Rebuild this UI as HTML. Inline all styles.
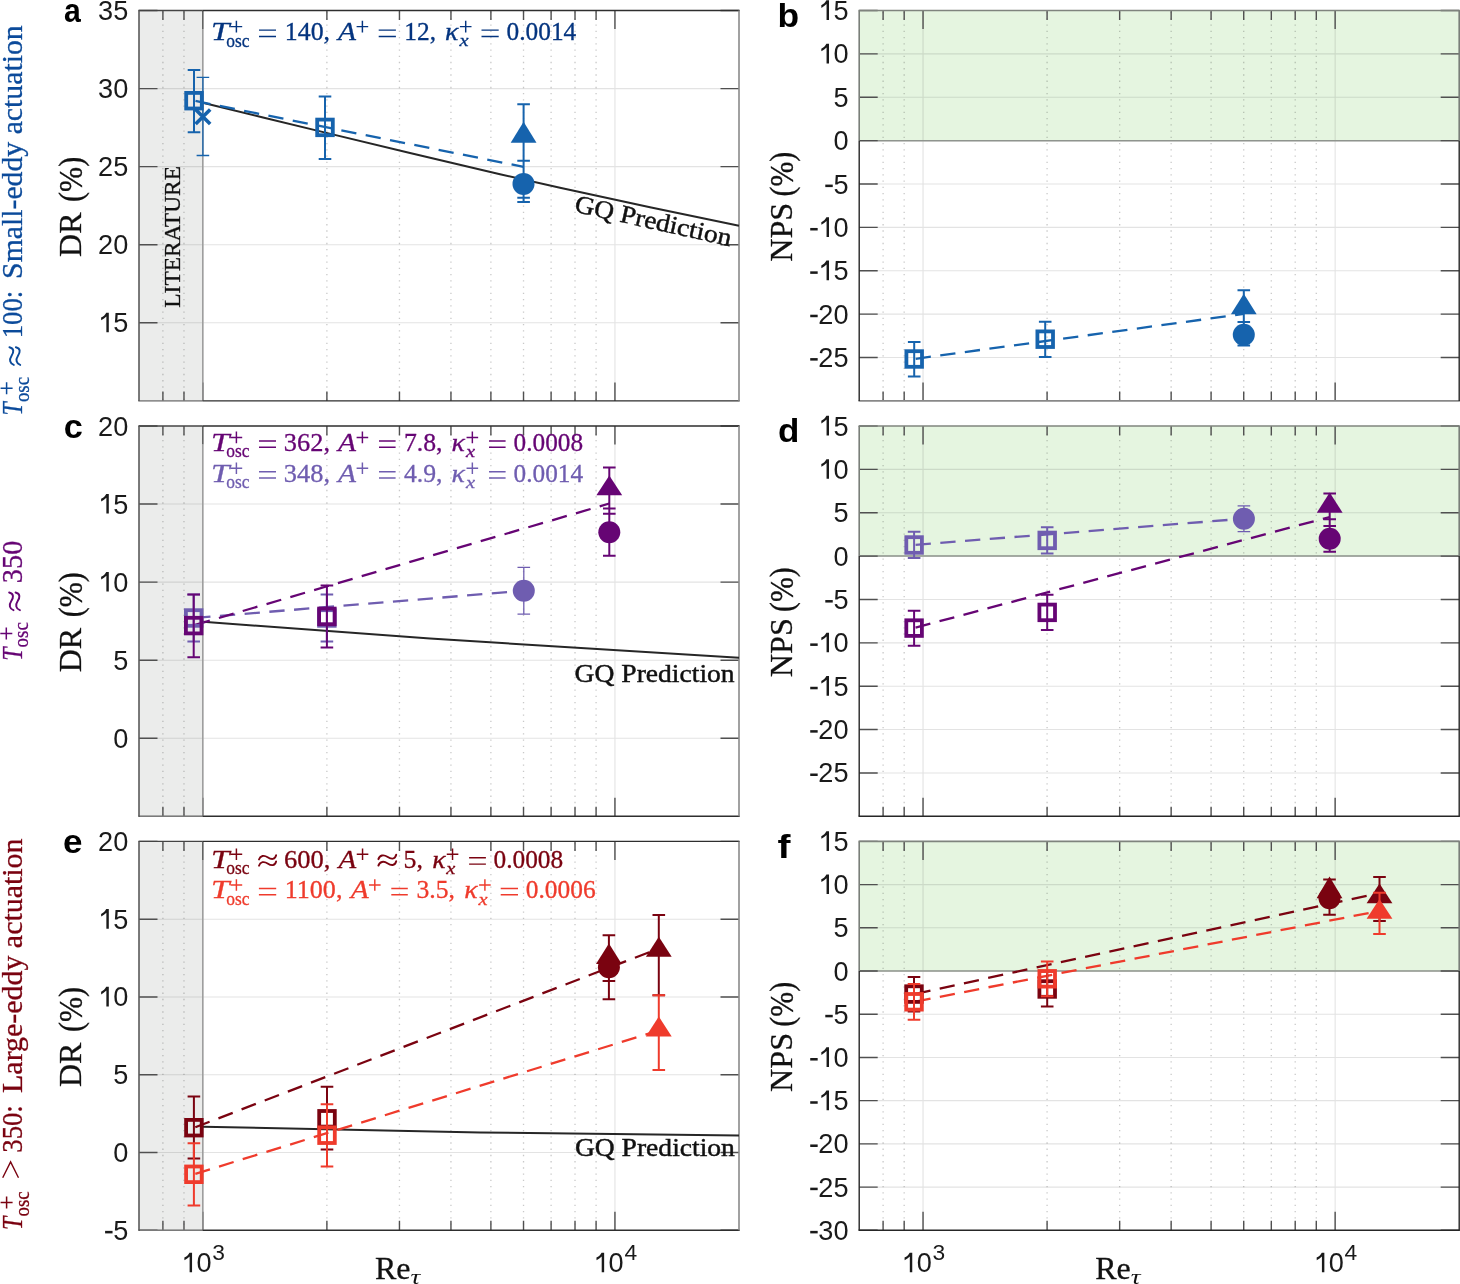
<!DOCTYPE html><html><head><meta charset="utf-8"><style>html,body{margin:0;padding:0;background:#fff;}svg{display:block;will-change:transform;}</style></head><body><svg width="1460" height="1284" viewBox="0 0 1460 1284">
<rect width="1460" height="1284" fill="#fff"/>
<rect x="139.0" y="10.5" width="63.84" height="390.40" fill="#ebeceb"/>
<path d="M139.00 322.82H739.00 M139.00 244.74H739.00 M139.00 166.66H739.00 M139.00 88.58H739.00 M202.84 10.50V400.90 M614.94 10.50V400.90" stroke="#262626" stroke-opacity="0.13" stroke-width="1.1" fill="none"/>
<path d="M162.90 11.95V400.90 M183.98 11.95V400.90 M326.89 11.95V400.90 M399.46 11.95V400.90 M450.95 11.95V400.90 M490.89 11.95V400.90 M523.52 11.95V400.90 M551.11 11.95V400.90 M575.01 11.95V400.90 M596.09 11.95V400.90" stroke="#262626" stroke-opacity="0.25" stroke-width="1.3" stroke-dasharray="1.3 4.94" fill="none"/>
<rect x="859.2" y="10.5" width="600.0" height="130.13" fill="#e5f5e0"/>
<path d="M859.20 357.52H1459.20 M859.20 314.14H1459.20 M859.20 270.77H1459.20 M859.20 227.39H1459.20 M859.20 184.01H1459.20 M859.20 140.63H1459.20 M859.20 97.26H1459.20 M859.20 53.88H1459.20 M923.04 10.50V400.90 M1335.14 10.50V400.90" stroke="#262626" stroke-opacity="0.13" stroke-width="1.1" fill="none"/>
<path d="M883.10 11.95V400.90 M904.18 11.95V400.90 M1047.09 11.95V400.90 M1119.66 11.95V400.90 M1171.15 11.95V400.90 M1211.09 11.95V400.90 M1243.72 11.95V400.90 M1271.31 11.95V400.90 M1295.21 11.95V400.90 M1316.29 11.95V400.90" stroke="#262626" stroke-opacity="0.25" stroke-width="1.3" stroke-dasharray="1.3 4.94" fill="none"/>
<path d="M859.2 140.63H1459.2" stroke="#8f948e" stroke-width="1.5" fill="none"/>
<rect x="139.0" y="426.0" width="63.84" height="390.30" fill="#ebeceb"/>
<path d="M139.00 738.24H739.00 M139.00 660.18H739.00 M139.00 582.12H739.00 M139.00 504.06H739.00 M202.84 426.00V816.30 M614.94 426.00V816.30" stroke="#262626" stroke-opacity="0.13" stroke-width="1.1" fill="none"/>
<path d="M162.90 427.45V816.30 M183.98 427.45V816.30 M326.89 427.45V816.30 M399.46 427.45V816.30 M450.95 427.45V816.30 M490.89 427.45V816.30 M523.52 427.45V816.30 M551.11 427.45V816.30 M575.01 427.45V816.30 M596.09 427.45V816.30" stroke="#262626" stroke-opacity="0.25" stroke-width="1.3" stroke-dasharray="1.3 4.94" fill="none"/>
<rect x="859.2" y="426.0" width="600.0" height="130.10" fill="#e5f5e0"/>
<path d="M859.20 772.93H1459.20 M859.20 729.57H1459.20 M859.20 686.20H1459.20 M859.20 642.83H1459.20 M859.20 599.47H1459.20 M859.20 556.10H1459.20 M859.20 512.73H1459.20 M859.20 469.37H1459.20 M923.04 426.00V816.30 M1335.14 426.00V816.30" stroke="#262626" stroke-opacity="0.13" stroke-width="1.1" fill="none"/>
<path d="M883.10 427.45V816.30 M904.18 427.45V816.30 M1047.09 427.45V816.30 M1119.66 427.45V816.30 M1171.15 427.45V816.30 M1211.09 427.45V816.30 M1243.72 427.45V816.30 M1271.31 427.45V816.30 M1295.21 427.45V816.30 M1316.29 427.45V816.30" stroke="#262626" stroke-opacity="0.25" stroke-width="1.3" stroke-dasharray="1.3 4.94" fill="none"/>
<path d="M859.2 556.10H1459.2" stroke="#8f948e" stroke-width="1.5" fill="none"/>
<rect x="139.0" y="841.4" width="63.84" height="388.90" fill="#ebeceb"/>
<path d="M139.00 1152.52H739.00 M139.00 1074.74H739.00 M139.00 996.96H739.00 M139.00 919.18H739.00 M202.84 841.40V1230.30 M614.94 841.40V1230.30" stroke="#262626" stroke-opacity="0.13" stroke-width="1.1" fill="none"/>
<path d="M162.90 842.85V1230.30 M183.98 842.85V1230.30 M326.89 842.85V1230.30 M399.46 842.85V1230.30 M450.95 842.85V1230.30 M490.89 842.85V1230.30 M523.52 842.85V1230.30 M551.11 842.85V1230.30 M575.01 842.85V1230.30 M596.09 842.85V1230.30" stroke="#262626" stroke-opacity="0.25" stroke-width="1.3" stroke-dasharray="1.3 4.94" fill="none"/>
<rect x="859.2" y="841.4" width="600.0" height="129.63" fill="#e5f5e0"/>
<path d="M859.20 1187.09H1459.20 M859.20 1143.88H1459.20 M859.20 1100.67H1459.20 M859.20 1057.46H1459.20 M859.20 1014.24H1459.20 M859.20 971.03H1459.20 M859.20 927.82H1459.20 M859.20 884.61H1459.20 M923.04 841.40V1230.30 M1335.14 841.40V1230.30" stroke="#262626" stroke-opacity="0.13" stroke-width="1.1" fill="none"/>
<path d="M883.10 842.85V1230.30 M904.18 842.85V1230.30 M1047.09 842.85V1230.30 M1119.66 842.85V1230.30 M1171.15 842.85V1230.30 M1211.09 842.85V1230.30 M1243.72 842.85V1230.30 M1271.31 842.85V1230.30 M1295.21 842.85V1230.30 M1316.29 842.85V1230.30" stroke="#262626" stroke-opacity="0.25" stroke-width="1.3" stroke-dasharray="1.3 4.94" fill="none"/>
<path d="M859.2 971.03H1459.2" stroke="#8f948e" stroke-width="1.5" fill="none"/>
<path d="M139.00 322.82h18.5M739.00 322.82h-18.5 M139.00 244.74h18.5M739.00 244.74h-18.5 M139.00 166.66h18.5M739.00 166.66h-18.5 M139.00 88.58h18.5M739.00 88.58h-18.5 M139.00 10.50h18.5M739.00 10.50h-18.5 M202.84 10.50v18.5M202.84 400.90v-18.5 M614.94 10.50v18.5M614.94 400.90v-18.5 M162.90 10.50v9.5M162.90 400.90v-9.5 M183.98 10.50v9.5M183.98 400.90v-9.5 M326.89 10.50v9.5M326.89 400.90v-9.5 M399.46 10.50v9.5M399.46 400.90v-9.5 M450.95 10.50v9.5M450.95 400.90v-9.5 M490.89 10.50v9.5M490.89 400.90v-9.5 M523.52 10.50v9.5M523.52 400.90v-9.5 M551.11 10.50v9.5M551.11 400.90v-9.5 M575.01 10.50v9.5M575.01 400.90v-9.5 M596.09 10.50v9.5M596.09 400.90v-9.5" stroke="#505050" stroke-width="1.4" fill="none"/>
<path d="M202.84 10.50H739.70M202.84 400.90H739.70" stroke="#2e2e2e" stroke-width="1.4" fill="none"/>
<path d="M138.30 10.50H202.84" stroke="#444" stroke-width="1.4" fill="none"/>
<path d="M138.30 400.90H202.84" stroke="#555" stroke-width="1.4" fill="none"/>
<path d="M139.00 10.50V400.90" stroke="#5a5a5a" stroke-width="1.6" fill="none"/>
<path d="M739.00 10.50V400.90" stroke="#8a8a8a" stroke-width="1.6" fill="none"/>
<path d="M202.84 29.10V400.20" stroke="#959595" stroke-width="1.4" fill="none"/>
<path d="M139.80 400.90H202.14" stroke="#ebeceb" stroke-opacity="0.25" stroke-width="1.4" fill="none"/>
<path d="M859.20 357.52h18.5M1459.20 357.52h-18.5 M859.20 314.14h18.5M1459.20 314.14h-18.5 M859.20 270.77h18.5M1459.20 270.77h-18.5 M859.20 227.39h18.5M1459.20 227.39h-18.5 M859.20 184.01h18.5M1459.20 184.01h-18.5 M859.20 140.63h18.5M1459.20 140.63h-18.5 M859.20 97.26h18.5M1459.20 97.26h-18.5 M859.20 53.88h18.5M1459.20 53.88h-18.5 M859.20 10.50h18.5M1459.20 10.50h-18.5 M923.04 10.50v18.5M923.04 400.90v-18.5 M1335.14 10.50v18.5M1335.14 400.90v-18.5 M883.10 10.50v9.5M883.10 400.90v-9.5 M904.18 10.50v9.5M904.18 400.90v-9.5 M1047.09 10.50v9.5M1047.09 400.90v-9.5 M1119.66 10.50v9.5M1119.66 400.90v-9.5 M1171.15 10.50v9.5M1171.15 400.90v-9.5 M1211.09 10.50v9.5M1211.09 400.90v-9.5 M1243.72 10.50v9.5M1243.72 400.90v-9.5 M1271.31 10.50v9.5M1271.31 400.90v-9.5 M1295.21 10.50v9.5M1295.21 400.90v-9.5 M1316.29 10.50v9.5M1316.29 400.90v-9.5" stroke="#505050" stroke-width="1.4" fill="none"/>
<path d="M858.50 10.50H1459.90" stroke="#7f847e" stroke-width="1.6" fill="none"/>
<path d="M858.50 400.90H1459.90" stroke="#888" stroke-width="1.6" fill="none"/>
<path d="M859.20 10.50V140.63M1459.20 10.50V140.63" stroke="#7a7f79" stroke-width="1.6" fill="none"/>
<path d="M859.20 140.63V400.90M1459.20 140.63V400.90" stroke="#262626" stroke-width="1.4" fill="none"/>
<path d="M139.00 738.24h18.5M739.00 738.24h-18.5 M139.00 660.18h18.5M739.00 660.18h-18.5 M139.00 582.12h18.5M739.00 582.12h-18.5 M139.00 504.06h18.5M739.00 504.06h-18.5 M139.00 426.00h18.5M739.00 426.00h-18.5 M202.84 426.00v18.5M202.84 816.30v-18.5 M614.94 426.00v18.5M614.94 816.30v-18.5 M162.90 426.00v9.5M162.90 816.30v-9.5 M183.98 426.00v9.5M183.98 816.30v-9.5 M326.89 426.00v9.5M326.89 816.30v-9.5 M399.46 426.00v9.5M399.46 816.30v-9.5 M450.95 426.00v9.5M450.95 816.30v-9.5 M490.89 426.00v9.5M490.89 816.30v-9.5 M523.52 426.00v9.5M523.52 816.30v-9.5 M551.11 426.00v9.5M551.11 816.30v-9.5 M575.01 426.00v9.5M575.01 816.30v-9.5 M596.09 426.00v9.5M596.09 816.30v-9.5" stroke="#505050" stroke-width="1.4" fill="none"/>
<path d="M202.84 426.00H739.70M202.84 816.30H739.70" stroke="#2e2e2e" stroke-width="1.4" fill="none"/>
<path d="M138.30 426.00H202.84" stroke="#444" stroke-width="1.4" fill="none"/>
<path d="M138.30 816.30H202.84" stroke="#555" stroke-width="1.4" fill="none"/>
<path d="M139.00 426.00V816.30" stroke="#5a5a5a" stroke-width="1.6" fill="none"/>
<path d="M739.00 426.00V816.30" stroke="#8a8a8a" stroke-width="1.6" fill="none"/>
<path d="M202.84 444.60V815.60" stroke="#959595" stroke-width="1.4" fill="none"/>
<path d="M139.80 816.30H202.14" stroke="#ebeceb" stroke-opacity="0.25" stroke-width="1.4" fill="none"/>
<path d="M859.20 772.93h18.5M1459.20 772.93h-18.5 M859.20 729.57h18.5M1459.20 729.57h-18.5 M859.20 686.20h18.5M1459.20 686.20h-18.5 M859.20 642.83h18.5M1459.20 642.83h-18.5 M859.20 599.47h18.5M1459.20 599.47h-18.5 M859.20 556.10h18.5M1459.20 556.10h-18.5 M859.20 512.73h18.5M1459.20 512.73h-18.5 M859.20 469.37h18.5M1459.20 469.37h-18.5 M859.20 426.00h18.5M1459.20 426.00h-18.5 M923.04 426.00v18.5M923.04 816.30v-18.5 M1335.14 426.00v18.5M1335.14 816.30v-18.5 M883.10 426.00v9.5M883.10 816.30v-9.5 M904.18 426.00v9.5M904.18 816.30v-9.5 M1047.09 426.00v9.5M1047.09 816.30v-9.5 M1119.66 426.00v9.5M1119.66 816.30v-9.5 M1171.15 426.00v9.5M1171.15 816.30v-9.5 M1211.09 426.00v9.5M1211.09 816.30v-9.5 M1243.72 426.00v9.5M1243.72 816.30v-9.5 M1271.31 426.00v9.5M1271.31 816.30v-9.5 M1295.21 426.00v9.5M1295.21 816.30v-9.5 M1316.29 426.00v9.5M1316.29 816.30v-9.5" stroke="#505050" stroke-width="1.4" fill="none"/>
<path d="M858.50 426.00H1459.90" stroke="#7f847e" stroke-width="1.6" fill="none"/>
<path d="M858.50 816.30H1459.90" stroke="#262626" stroke-width="1.4" fill="none"/>
<path d="M859.20 426.00V556.10M1459.20 426.00V556.10" stroke="#7a7f79" stroke-width="1.6" fill="none"/>
<path d="M859.20 556.10V816.30M1459.20 556.10V816.30" stroke="#262626" stroke-width="1.4" fill="none"/>
<path d="M139.00 1230.30h18.5M739.00 1230.30h-18.5 M139.00 1152.52h18.5M739.00 1152.52h-18.5 M139.00 1074.74h18.5M739.00 1074.74h-18.5 M139.00 996.96h18.5M739.00 996.96h-18.5 M139.00 919.18h18.5M739.00 919.18h-18.5 M139.00 841.40h18.5M739.00 841.40h-18.5 M202.84 841.40v18.5M202.84 1230.30v-18.5 M614.94 841.40v18.5M614.94 1230.30v-18.5 M162.90 841.40v9.5M162.90 1230.30v-9.5 M183.98 841.40v9.5M183.98 1230.30v-9.5 M326.89 841.40v9.5M326.89 1230.30v-9.5 M399.46 841.40v9.5M399.46 1230.30v-9.5 M450.95 841.40v9.5M450.95 1230.30v-9.5 M490.89 841.40v9.5M490.89 1230.30v-9.5 M523.52 841.40v9.5M523.52 1230.30v-9.5 M551.11 841.40v9.5M551.11 1230.30v-9.5 M575.01 841.40v9.5M575.01 1230.30v-9.5 M596.09 841.40v9.5M596.09 1230.30v-9.5" stroke="#505050" stroke-width="1.4" fill="none"/>
<path d="M202.84 841.40H739.70M202.84 1230.30H739.70" stroke="#2e2e2e" stroke-width="1.4" fill="none"/>
<path d="M138.30 841.40H202.84" stroke="#444" stroke-width="1.4" fill="none"/>
<path d="M138.30 1230.30H202.84" stroke="#555" stroke-width="1.4" fill="none"/>
<path d="M139.00 841.40V1230.30" stroke="#5a5a5a" stroke-width="1.6" fill="none"/>
<path d="M739.00 841.40V1230.30" stroke="#8a8a8a" stroke-width="1.6" fill="none"/>
<path d="M202.84 860.00V1229.60" stroke="#959595" stroke-width="1.4" fill="none"/>
<path d="M139.80 1230.30H202.14" stroke="#ebeceb" stroke-opacity="0.25" stroke-width="1.4" fill="none"/>
<path d="M859.20 1230.30h18.5M1459.20 1230.30h-18.5 M859.20 1187.09h18.5M1459.20 1187.09h-18.5 M859.20 1143.88h18.5M1459.20 1143.88h-18.5 M859.20 1100.67h18.5M1459.20 1100.67h-18.5 M859.20 1057.46h18.5M1459.20 1057.46h-18.5 M859.20 1014.24h18.5M1459.20 1014.24h-18.5 M859.20 971.03h18.5M1459.20 971.03h-18.5 M859.20 927.82h18.5M1459.20 927.82h-18.5 M859.20 884.61h18.5M1459.20 884.61h-18.5 M859.20 841.40h18.5M1459.20 841.40h-18.5 M923.04 841.40v18.5M923.04 1230.30v-18.5 M1335.14 841.40v18.5M1335.14 1230.30v-18.5 M883.10 841.40v9.5M883.10 1230.30v-9.5 M904.18 841.40v9.5M904.18 1230.30v-9.5 M1047.09 841.40v9.5M1047.09 1230.30v-9.5 M1119.66 841.40v9.5M1119.66 1230.30v-9.5 M1171.15 841.40v9.5M1171.15 1230.30v-9.5 M1211.09 841.40v9.5M1211.09 1230.30v-9.5 M1243.72 841.40v9.5M1243.72 1230.30v-9.5 M1271.31 841.40v9.5M1271.31 1230.30v-9.5 M1295.21 841.40v9.5M1295.21 1230.30v-9.5 M1316.29 841.40v9.5M1316.29 1230.30v-9.5" stroke="#505050" stroke-width="1.4" fill="none"/>
<path d="M858.50 841.40H1459.90" stroke="#7f847e" stroke-width="1.6" fill="none"/>
<path d="M858.50 1230.30H1459.90" stroke="#262626" stroke-width="1.4" fill="none"/>
<path d="M859.20 841.40V971.03M1459.20 841.40V971.03" stroke="#7a7f79" stroke-width="1.6" fill="none"/>
<path d="M859.20 971.03V1230.30M1459.20 971.03V1230.30" stroke="#262626" stroke-width="1.4" fill="none"/>
<path d="M202.80 102.70L262.00 117.30L323.30 132.10L410.00 153.00L500.00 174.20L560.00 187.70L650.00 207.30L739.00 225.80" stroke="#262626" stroke-width="2.0" fill="none" stroke-linejoin="round"/>
<path d="M194.00 100.70L523.60 166.90" stroke="#1663ad" stroke-width="2.3" stroke-dasharray="15.3 9.5" stroke-dashoffset="-1.5" fill="none"/>
<path d="M202.90 77.40V155.50" stroke="#1663ad" stroke-width="1.3" fill="none"/>
<path d="M196.60 77.40h12.6M196.60 155.50h12.6" stroke="#1663ad" stroke-width="1.3" fill="none"/>
<path d="M194.00 69.90V132.20" stroke="#1663ad" stroke-width="2.0" fill="none"/>
<path d="M187.70 69.90h12.6M187.70 132.20h12.6" stroke="#1663ad" stroke-width="2.0" fill="none"/>
<rect x="186.20" y="92.90" width="15.6" height="15.6" fill="none" stroke="#1663ad" stroke-width="3.8"/>
<path d="M195.60 109.40L210.20 124.00M195.60 124.00L210.20 109.40" stroke="#1663ad" stroke-width="3.6" fill="none"/>
<path d="M325.00 96.60V158.90" stroke="#1663ad" stroke-width="2.0" fill="none"/>
<path d="M318.70 96.60h12.6M318.70 158.90h12.6" stroke="#1663ad" stroke-width="2.0" fill="none"/>
<rect x="317.20" y="119.60" width="15.6" height="15.6" fill="none" stroke="#1663ad" stroke-width="3.8"/>
<path d="M523.60 104.20V201.90" stroke="#1663ad" stroke-width="2.0" fill="none"/>
<path d="M517.30 104.20h12.6M517.30 160.80h12.6M517.30 197.80h12.6M517.30 201.90h12.6" stroke="#1663ad" stroke-width="2.0" fill="none"/>
<path d="M523.60 121.80L536.50 142.70L510.70 142.70Z" fill="#1663ad"/>
<circle cx="523.50" cy="183.90" r="11.0" fill="#1663ad"/>
<path d="M914.20 359.00L1243.80 313.90" stroke="#1663ad" stroke-width="2.3" stroke-dasharray="15.3 9.5" stroke-dashoffset="-1.5" fill="none"/>
<path d="M914.20 341.90V376.60" stroke="#1663ad" stroke-width="2.0" fill="none"/>
<path d="M907.90 341.90h12.6M907.90 376.60h12.6" stroke="#1663ad" stroke-width="2.0" fill="none"/>
<rect x="906.40" y="351.20" width="15.6" height="15.6" fill="none" stroke="#1663ad" stroke-width="3.8"/>
<path d="M1045.20 321.80V357.00" stroke="#1663ad" stroke-width="2.0" fill="none"/>
<path d="M1038.90 321.80h12.6M1038.90 357.00h12.6" stroke="#1663ad" stroke-width="2.0" fill="none"/>
<rect x="1037.40" y="331.40" width="15.6" height="15.6" fill="none" stroke="#1663ad" stroke-width="3.8"/>
<path d="M1243.80 290.30V345.50" stroke="#1663ad" stroke-width="2.0" fill="none"/>
<path d="M1237.50 290.30h12.6M1237.50 322.00h12.6M1237.50 345.50h12.6" stroke="#1663ad" stroke-width="2.0" fill="none"/>
<path d="M1243.80 293.80L1256.70 314.30L1230.90 314.30Z" fill="#1663ad"/>
<circle cx="1243.80" cy="334.80" r="11.0" fill="#1663ad"/>
<path d="M203.00 621.70L430.00 638.60L739.00 657.80" stroke="#262626" stroke-width="2.0" fill="none" stroke-linejoin="round"/>
<path d="M193.70 618.00L523.80 590.80" stroke="#6f5db0" stroke-width="2.3" stroke-dasharray="15.3 9.5" stroke-dashoffset="-1.5" fill="none"/>
<path d="M193.70 625.40L609.30 503.50" stroke="#660574" stroke-width="2.3" stroke-dasharray="15.3 9.5" stroke-dashoffset="-1.5" fill="none"/>
<path d="M193.70 594.60V641.40" stroke="#6f5db0" stroke-width="2.0" fill="none"/>
<path d="M187.40 594.60h12.6M187.40 641.40h12.6" stroke="#6f5db0" stroke-width="2.0" fill="none"/>
<rect x="185.90" y="610.20" width="15.6" height="15.6" fill="none" stroke="#6f5db0" stroke-width="3.8"/>
<path d="M326.90 594.60V641.40" stroke="#6f5db0" stroke-width="2.0" fill="none"/>
<path d="M320.60 594.60h12.6M320.60 641.40h12.6" stroke="#6f5db0" stroke-width="2.0" fill="none"/>
<rect x="319.10" y="610.20" width="15.6" height="15.6" fill="none" stroke="#6f5db0" stroke-width="3.8"/>
<path d="M523.80 567.30V614.20" stroke="#6f5db0" stroke-width="1.3" fill="none"/>
<path d="M517.50 567.30h12.6M517.50 614.20h12.6" stroke="#6f5db0" stroke-width="1.3" fill="none"/>
<circle cx="523.80" cy="590.80" r="11.0" fill="#6f5db0"/>
<path d="M193.70 594.60V657.20" stroke="#660574" stroke-width="2.0" fill="none"/>
<path d="M187.40 594.60h12.6M187.40 657.20h12.6" stroke="#660574" stroke-width="2.0" fill="none"/>
<rect x="185.90" y="617.80" width="15.6" height="15.6" fill="none" stroke="#660574" stroke-width="3.8"/>
<path d="M326.90 585.40V647.60" stroke="#660574" stroke-width="2.0" fill="none"/>
<path d="M320.60 585.40h12.6M320.60 647.60h12.6" stroke="#660574" stroke-width="2.0" fill="none"/>
<rect x="319.10" y="608.60" width="15.6" height="15.6" fill="none" stroke="#660574" stroke-width="3.8"/>
<path d="M609.30 467.60V555.70" stroke="#660574" stroke-width="2.0" fill="none"/>
<path d="M603.00 467.60h12.6M603.00 508.40h12.6M603.00 513.80h12.6M603.00 555.70h12.6" stroke="#660574" stroke-width="2.0" fill="none"/>
<path d="M609.30 475.60L622.20 495.30L596.40 495.30Z" fill="#660574"/>
<circle cx="609.30" cy="532.30" r="11.0" fill="#660574"/>
<path d="M914.10 545.00L1243.90 518.70" stroke="#6f5db0" stroke-width="2.3" stroke-dasharray="15.3 9.5" stroke-dashoffset="-1.5" fill="none"/>
<path d="M914.10 628.00L1329.70 517.00" stroke="#660574" stroke-width="2.3" stroke-dasharray="15.3 9.5" stroke-dashoffset="-1.5" fill="none"/>
<path d="M914.10 531.80V558.10" stroke="#6f5db0" stroke-width="2.0" fill="none"/>
<path d="M907.80 531.80h12.6M907.80 558.10h12.6" stroke="#6f5db0" stroke-width="2.0" fill="none"/>
<rect x="906.30" y="537.20" width="15.6" height="15.6" fill="none" stroke="#6f5db0" stroke-width="3.8"/>
<path d="M1047.20 527.30V553.50" stroke="#6f5db0" stroke-width="2.0" fill="none"/>
<path d="M1040.90 527.30h12.6M1040.90 553.50h12.6" stroke="#6f5db0" stroke-width="2.0" fill="none"/>
<rect x="1039.40" y="532.60" width="15.6" height="15.6" fill="none" stroke="#6f5db0" stroke-width="3.8"/>
<path d="M1243.90 505.90V531.70" stroke="#6f5db0" stroke-width="1.3" fill="none"/>
<path d="M1237.60 505.90h12.6M1237.60 531.70h12.6" stroke="#6f5db0" stroke-width="1.3" fill="none"/>
<circle cx="1243.90" cy="518.70" r="11.0" fill="#6f5db0"/>
<path d="M914.10 610.70V645.70" stroke="#660574" stroke-width="2.0" fill="none"/>
<path d="M907.80 610.70h12.6M907.80 645.70h12.6" stroke="#660574" stroke-width="2.0" fill="none"/>
<rect x="906.30" y="620.30" width="15.6" height="15.6" fill="none" stroke="#660574" stroke-width="3.8"/>
<path d="M1047.20 594.70V630.10" stroke="#660574" stroke-width="2.0" fill="none"/>
<path d="M1040.90 594.70h12.6M1040.90 630.10h12.6" stroke="#660574" stroke-width="2.0" fill="none"/>
<rect x="1039.40" y="604.60" width="15.6" height="15.6" fill="none" stroke="#660574" stroke-width="3.8"/>
<path d="M1329.70 493.40V551.80" stroke="#660574" stroke-width="2.0" fill="none"/>
<path d="M1323.40 493.40h12.6M1323.40 519.30h12.6M1323.40 526.00h12.6M1323.40 551.80h12.6" stroke="#660574" stroke-width="2.0" fill="none"/>
<path d="M1329.70 492.50L1342.60 512.70L1316.80 512.70Z" fill="#660574"/>
<circle cx="1329.70" cy="538.80" r="11.0" fill="#660574"/>
<path d="M203.00 1126.80L480.00 1132.40L739.00 1135.50" stroke="#262626" stroke-width="2.0" fill="none" stroke-linejoin="round"/>
<path d="M193.90 1127.80L658.80 948.50" stroke="#7a0310" stroke-width="2.3" stroke-dasharray="15.3 9.5" stroke-dashoffset="-1.5" fill="none"/>
<path d="M193.90 1174.30L658.80 1030.50" stroke="#ef3b2c" stroke-width="2.3" stroke-dasharray="15.3 9.5" stroke-dashoffset="-1.5" fill="none"/>
<path d="M193.90 1096.60V1158.60" stroke="#7a0310" stroke-width="2.0" fill="none"/>
<path d="M187.60 1096.60h12.6M187.60 1158.60h12.6" stroke="#7a0310" stroke-width="2.0" fill="none"/>
<rect x="186.10" y="1119.90" width="15.6" height="15.6" fill="none" stroke="#7a0310" stroke-width="3.8"/>
<path d="M327.00 1086.70V1149.40" stroke="#7a0310" stroke-width="2.0" fill="none"/>
<path d="M320.70 1086.70h12.6M320.70 1149.40h12.6" stroke="#7a0310" stroke-width="2.0" fill="none"/>
<rect x="319.20" y="1111.00" width="15.6" height="15.6" fill="none" stroke="#7a0310" stroke-width="3.8"/>
<path d="M608.90 935.30V999.20" stroke="#7a0310" stroke-width="2.0" fill="none"/>
<path d="M602.60 935.30h12.6M602.60 981.00h12.6M602.60 999.20h12.6" stroke="#7a0310" stroke-width="2.0" fill="none"/>
<path d="M608.90 943.60L621.80 964.00L596.00 964.00Z" fill="#7a0310"/>
<circle cx="608.90" cy="967.30" r="11.0" fill="#7a0310"/>
<path d="M658.80 914.90V995.20" stroke="#7a0310" stroke-width="2.0" fill="none"/>
<path d="M652.50 914.90h12.6M652.50 995.20h12.6" stroke="#7a0310" stroke-width="2.0" fill="none"/>
<path d="M658.80 936.80L671.70 956.80L645.90 956.80Z" fill="#7a0310"/>
<path d="M193.90 1143.20V1205.50" stroke="#ef3b2c" stroke-width="2.0" fill="none"/>
<path d="M187.60 1143.20h12.6M187.60 1205.50h12.6" stroke="#ef3b2c" stroke-width="2.0" fill="none"/>
<rect x="186.10" y="1166.50" width="15.6" height="15.6" fill="none" stroke="#ef3b2c" stroke-width="3.8"/>
<path d="M327.00 1104.20V1166.40" stroke="#ef3b2c" stroke-width="2.0" fill="none"/>
<path d="M320.70 1104.20h12.6M320.70 1166.40h12.6" stroke="#ef3b2c" stroke-width="2.0" fill="none"/>
<rect x="319.20" y="1127.40" width="15.6" height="15.6" fill="none" stroke="#ef3b2c" stroke-width="3.8"/>
<path d="M658.80 995.20V1070.00" stroke="#ef3b2c" stroke-width="2.0" fill="none"/>
<path d="M652.50 995.20h12.6M652.50 1070.00h12.6" stroke="#ef3b2c" stroke-width="2.0" fill="none"/>
<path d="M658.80 1016.60L671.70 1036.60L645.90 1036.60Z" fill="#ef3b2c"/>
<path d="M914.00 994.10L1379.50 893.00" stroke="#7a0310" stroke-width="2.3" stroke-dasharray="15.3 9.5" stroke-dashoffset="-1.5" fill="none"/>
<path d="M914.00 1001.80L1379.50 910.90" stroke="#ef3b2c" stroke-width="2.3" stroke-dasharray="15.3 9.5" stroke-dashoffset="-1.5" fill="none"/>
<path d="M914.00 977.00V1011.40" stroke="#7a0310" stroke-width="2.0" fill="none"/>
<path d="M907.70 977.00h12.6M907.70 1011.40h12.6" stroke="#7a0310" stroke-width="2.0" fill="none"/>
<rect x="906.20" y="986.30" width="15.6" height="15.6" fill="none" stroke="#7a0310" stroke-width="3.8"/>
<path d="M1047.20 971.50V1006.50" stroke="#7a0310" stroke-width="2.0" fill="none"/>
<path d="M1040.90 971.50h12.6M1040.90 1006.50h12.6" stroke="#7a0310" stroke-width="2.0" fill="none"/>
<rect x="1039.40" y="981.20" width="15.6" height="15.6" fill="none" stroke="#7a0310" stroke-width="3.8"/>
<path d="M1329.50 879.50V914.70" stroke="#7a0310" stroke-width="2.0" fill="none"/>
<path d="M1323.20 879.50h12.6M1323.20 914.70h12.6" stroke="#7a0310" stroke-width="2.0" fill="none"/>
<path d="M1329.50 876.60L1342.40 898.20L1316.60 898.20Z" fill="#7a0310"/>
<circle cx="1329.50" cy="898.20" r="11.0" fill="#7a0310"/>
<path d="M1379.50 876.90V920.90" stroke="#7a0310" stroke-width="2.0" fill="none"/>
<path d="M1373.20 876.90h12.6M1373.20 920.90h12.6" stroke="#7a0310" stroke-width="2.0" fill="none"/>
<path d="M1379.50 883.40L1392.40 903.20L1366.60 903.20Z" fill="#7a0310"/>
<path d="M914.00 984.00V1019.70" stroke="#ef3b2c" stroke-width="2.0" fill="none"/>
<path d="M907.70 984.00h12.6M907.70 1019.70h12.6" stroke="#ef3b2c" stroke-width="2.0" fill="none"/>
<rect x="906.20" y="994.00" width="15.6" height="15.6" fill="none" stroke="#ef3b2c" stroke-width="3.8"/>
<path d="M1047.20 961.40V996.20" stroke="#ef3b2c" stroke-width="2.0" fill="none"/>
<path d="M1040.90 961.40h12.6M1040.90 996.20h12.6" stroke="#ef3b2c" stroke-width="2.0" fill="none"/>
<rect x="1039.40" y="971.00" width="15.6" height="15.6" fill="none" stroke="#ef3b2c" stroke-width="3.8"/>
<path d="M1379.50 892.70V934.10" stroke="#ef3b2c" stroke-width="2.0" fill="none"/>
<path d="M1373.20 892.70h12.6M1373.20 934.10h12.6" stroke="#ef3b2c" stroke-width="2.0" fill="none"/>
<path d="M1379.50 898.90L1392.40 918.80L1366.60 918.80Z" fill="#ef3b2c"/>
<g transform="translate(128.25,332.32) scale(0.965,1)" fill="#1a1a1a"><path transform="translate(-31.25,0) scale(28.1)" d="M0.395 0H0.305V-0.565C0.25 -0.51 0.19 -0.465 0.115 -0.43L0.11 -0.525C0.19 -0.565 0.26 -0.62 0.30 -0.70H0.395Z"/><text x="-15.62" y="0" font-family='"Liberation Sans", sans-serif' font-size="28.1">5</text></g>
<g transform="translate(128.25,254.24) scale(0.965,1)" fill="#1a1a1a"><text x="-31.25" y="0" font-family='"Liberation Sans", sans-serif' font-size="28.1">2</text><text x="-15.62" y="0" font-family='"Liberation Sans", sans-serif' font-size="28.1">0</text></g>
<g transform="translate(128.25,176.16) scale(0.965,1)" fill="#1a1a1a"><text x="-31.25" y="0" font-family='"Liberation Sans", sans-serif' font-size="28.1">2</text><text x="-15.62" y="0" font-family='"Liberation Sans", sans-serif' font-size="28.1">5</text></g>
<g transform="translate(128.25,98.08) scale(0.965,1)" fill="#1a1a1a"><text x="-31.25" y="0" font-family='"Liberation Sans", sans-serif' font-size="28.1">3</text><text x="-15.62" y="0" font-family='"Liberation Sans", sans-serif' font-size="28.1">0</text></g>
<g transform="translate(128.25,20.00) scale(0.965,1)" fill="#1a1a1a"><text x="-31.25" y="0" font-family='"Liberation Sans", sans-serif' font-size="28.1">3</text><text x="-15.62" y="0" font-family='"Liberation Sans", sans-serif' font-size="28.1">5</text></g>
<g transform="translate(848.45,367.02) scale(0.965,1)" fill="#1a1a1a"><path transform="translate(-40.60,0) scale(28.1)" d="M0.035 -0.318H0.31V-0.228H0.035Z"/><text x="-31.25" y="0" font-family='"Liberation Sans", sans-serif' font-size="28.1">2</text><text x="-15.62" y="0" font-family='"Liberation Sans", sans-serif' font-size="28.1">5</text></g>
<g transform="translate(848.45,323.64) scale(0.965,1)" fill="#1a1a1a"><path transform="translate(-40.60,0) scale(28.1)" d="M0.035 -0.318H0.31V-0.228H0.035Z"/><text x="-31.25" y="0" font-family='"Liberation Sans", sans-serif' font-size="28.1">2</text><text x="-15.62" y="0" font-family='"Liberation Sans", sans-serif' font-size="28.1">0</text></g>
<g transform="translate(848.45,280.27) scale(0.965,1)" fill="#1a1a1a"><path transform="translate(-40.60,0) scale(28.1)" d="M0.035 -0.318H0.31V-0.228H0.035Z"/><path transform="translate(-31.25,0) scale(28.1)" d="M0.395 0H0.305V-0.565C0.25 -0.51 0.19 -0.465 0.115 -0.43L0.11 -0.525C0.19 -0.565 0.26 -0.62 0.30 -0.70H0.395Z"/><text x="-15.62" y="0" font-family='"Liberation Sans", sans-serif' font-size="28.1">5</text></g>
<g transform="translate(848.45,236.89) scale(0.965,1)" fill="#1a1a1a"><path transform="translate(-40.60,0) scale(28.1)" d="M0.035 -0.318H0.31V-0.228H0.035Z"/><path transform="translate(-31.25,0) scale(28.1)" d="M0.395 0H0.305V-0.565C0.25 -0.51 0.19 -0.465 0.115 -0.43L0.11 -0.525C0.19 -0.565 0.26 -0.62 0.30 -0.70H0.395Z"/><text x="-15.62" y="0" font-family='"Liberation Sans", sans-serif' font-size="28.1">0</text></g>
<g transform="translate(848.45,193.51) scale(0.965,1)" fill="#1a1a1a"><path transform="translate(-24.98,0) scale(28.1)" d="M0.035 -0.318H0.31V-0.228H0.035Z"/><text x="-15.62" y="0" font-family='"Liberation Sans", sans-serif' font-size="28.1">5</text></g>
<g transform="translate(848.45,150.13) scale(0.965,1)" fill="#1a1a1a"><text x="-15.62" y="0" font-family='"Liberation Sans", sans-serif' font-size="28.1">0</text></g>
<g transform="translate(848.45,106.76) scale(0.965,1)" fill="#1a1a1a"><text x="-15.62" y="0" font-family='"Liberation Sans", sans-serif' font-size="28.1">5</text></g>
<g transform="translate(848.45,63.38) scale(0.965,1)" fill="#1a1a1a"><path transform="translate(-31.25,0) scale(28.1)" d="M0.395 0H0.305V-0.565C0.25 -0.51 0.19 -0.465 0.115 -0.43L0.11 -0.525C0.19 -0.565 0.26 -0.62 0.30 -0.70H0.395Z"/><text x="-15.62" y="0" font-family='"Liberation Sans", sans-serif' font-size="28.1">0</text></g>
<g transform="translate(848.45,20.00) scale(0.965,1)" fill="#1a1a1a"><path transform="translate(-31.25,0) scale(28.1)" d="M0.395 0H0.305V-0.565C0.25 -0.51 0.19 -0.465 0.115 -0.43L0.11 -0.525C0.19 -0.565 0.26 -0.62 0.30 -0.70H0.395Z"/><text x="-15.62" y="0" font-family='"Liberation Sans", sans-serif' font-size="28.1">5</text></g>
<g transform="translate(128.25,747.74) scale(0.965,1)" fill="#1a1a1a"><text x="-15.62" y="0" font-family='"Liberation Sans", sans-serif' font-size="28.1">0</text></g>
<g transform="translate(128.25,669.68) scale(0.965,1)" fill="#1a1a1a"><text x="-15.62" y="0" font-family='"Liberation Sans", sans-serif' font-size="28.1">5</text></g>
<g transform="translate(128.25,591.62) scale(0.965,1)" fill="#1a1a1a"><path transform="translate(-31.25,0) scale(28.1)" d="M0.395 0H0.305V-0.565C0.25 -0.51 0.19 -0.465 0.115 -0.43L0.11 -0.525C0.19 -0.565 0.26 -0.62 0.30 -0.70H0.395Z"/><text x="-15.62" y="0" font-family='"Liberation Sans", sans-serif' font-size="28.1">0</text></g>
<g transform="translate(128.25,513.56) scale(0.965,1)" fill="#1a1a1a"><path transform="translate(-31.25,0) scale(28.1)" d="M0.395 0H0.305V-0.565C0.25 -0.51 0.19 -0.465 0.115 -0.43L0.11 -0.525C0.19 -0.565 0.26 -0.62 0.30 -0.70H0.395Z"/><text x="-15.62" y="0" font-family='"Liberation Sans", sans-serif' font-size="28.1">5</text></g>
<g transform="translate(128.25,435.50) scale(0.965,1)" fill="#1a1a1a"><text x="-31.25" y="0" font-family='"Liberation Sans", sans-serif' font-size="28.1">2</text><text x="-15.62" y="0" font-family='"Liberation Sans", sans-serif' font-size="28.1">0</text></g>
<g transform="translate(848.45,782.43) scale(0.965,1)" fill="#1a1a1a"><path transform="translate(-40.60,0) scale(28.1)" d="M0.035 -0.318H0.31V-0.228H0.035Z"/><text x="-31.25" y="0" font-family='"Liberation Sans", sans-serif' font-size="28.1">2</text><text x="-15.62" y="0" font-family='"Liberation Sans", sans-serif' font-size="28.1">5</text></g>
<g transform="translate(848.45,739.07) scale(0.965,1)" fill="#1a1a1a"><path transform="translate(-40.60,0) scale(28.1)" d="M0.035 -0.318H0.31V-0.228H0.035Z"/><text x="-31.25" y="0" font-family='"Liberation Sans", sans-serif' font-size="28.1">2</text><text x="-15.62" y="0" font-family='"Liberation Sans", sans-serif' font-size="28.1">0</text></g>
<g transform="translate(848.45,695.70) scale(0.965,1)" fill="#1a1a1a"><path transform="translate(-40.60,0) scale(28.1)" d="M0.035 -0.318H0.31V-0.228H0.035Z"/><path transform="translate(-31.25,0) scale(28.1)" d="M0.395 0H0.305V-0.565C0.25 -0.51 0.19 -0.465 0.115 -0.43L0.11 -0.525C0.19 -0.565 0.26 -0.62 0.30 -0.70H0.395Z"/><text x="-15.62" y="0" font-family='"Liberation Sans", sans-serif' font-size="28.1">5</text></g>
<g transform="translate(848.45,652.33) scale(0.965,1)" fill="#1a1a1a"><path transform="translate(-40.60,0) scale(28.1)" d="M0.035 -0.318H0.31V-0.228H0.035Z"/><path transform="translate(-31.25,0) scale(28.1)" d="M0.395 0H0.305V-0.565C0.25 -0.51 0.19 -0.465 0.115 -0.43L0.11 -0.525C0.19 -0.565 0.26 -0.62 0.30 -0.70H0.395Z"/><text x="-15.62" y="0" font-family='"Liberation Sans", sans-serif' font-size="28.1">0</text></g>
<g transform="translate(848.45,608.97) scale(0.965,1)" fill="#1a1a1a"><path transform="translate(-24.98,0) scale(28.1)" d="M0.035 -0.318H0.31V-0.228H0.035Z"/><text x="-15.62" y="0" font-family='"Liberation Sans", sans-serif' font-size="28.1">5</text></g>
<g transform="translate(848.45,565.60) scale(0.965,1)" fill="#1a1a1a"><text x="-15.62" y="0" font-family='"Liberation Sans", sans-serif' font-size="28.1">0</text></g>
<g transform="translate(848.45,522.23) scale(0.965,1)" fill="#1a1a1a"><text x="-15.62" y="0" font-family='"Liberation Sans", sans-serif' font-size="28.1">5</text></g>
<g transform="translate(848.45,478.87) scale(0.965,1)" fill="#1a1a1a"><path transform="translate(-31.25,0) scale(28.1)" d="M0.395 0H0.305V-0.565C0.25 -0.51 0.19 -0.465 0.115 -0.43L0.11 -0.525C0.19 -0.565 0.26 -0.62 0.30 -0.70H0.395Z"/><text x="-15.62" y="0" font-family='"Liberation Sans", sans-serif' font-size="28.1">0</text></g>
<g transform="translate(848.45,435.50) scale(0.965,1)" fill="#1a1a1a"><path transform="translate(-31.25,0) scale(28.1)" d="M0.395 0H0.305V-0.565C0.25 -0.51 0.19 -0.465 0.115 -0.43L0.11 -0.525C0.19 -0.565 0.26 -0.62 0.30 -0.70H0.395Z"/><text x="-15.62" y="0" font-family='"Liberation Sans", sans-serif' font-size="28.1">5</text></g>
<g transform="translate(128.25,1239.80) scale(0.965,1)" fill="#1a1a1a"><path transform="translate(-24.98,0) scale(28.1)" d="M0.035 -0.318H0.31V-0.228H0.035Z"/><text x="-15.62" y="0" font-family='"Liberation Sans", sans-serif' font-size="28.1">5</text></g>
<g transform="translate(128.25,1162.02) scale(0.965,1)" fill="#1a1a1a"><text x="-15.62" y="0" font-family='"Liberation Sans", sans-serif' font-size="28.1">0</text></g>
<g transform="translate(128.25,1084.24) scale(0.965,1)" fill="#1a1a1a"><text x="-15.62" y="0" font-family='"Liberation Sans", sans-serif' font-size="28.1">5</text></g>
<g transform="translate(128.25,1006.46) scale(0.965,1)" fill="#1a1a1a"><path transform="translate(-31.25,0) scale(28.1)" d="M0.395 0H0.305V-0.565C0.25 -0.51 0.19 -0.465 0.115 -0.43L0.11 -0.525C0.19 -0.565 0.26 -0.62 0.30 -0.70H0.395Z"/><text x="-15.62" y="0" font-family='"Liberation Sans", sans-serif' font-size="28.1">0</text></g>
<g transform="translate(128.25,928.68) scale(0.965,1)" fill="#1a1a1a"><path transform="translate(-31.25,0) scale(28.1)" d="M0.395 0H0.305V-0.565C0.25 -0.51 0.19 -0.465 0.115 -0.43L0.11 -0.525C0.19 -0.565 0.26 -0.62 0.30 -0.70H0.395Z"/><text x="-15.62" y="0" font-family='"Liberation Sans", sans-serif' font-size="28.1">5</text></g>
<g transform="translate(128.25,850.90) scale(0.965,1)" fill="#1a1a1a"><text x="-31.25" y="0" font-family='"Liberation Sans", sans-serif' font-size="28.1">2</text><text x="-15.62" y="0" font-family='"Liberation Sans", sans-serif' font-size="28.1">0</text></g>
<g transform="translate(848.45,1239.80) scale(0.965,1)" fill="#1a1a1a"><path transform="translate(-40.60,0) scale(28.1)" d="M0.035 -0.318H0.31V-0.228H0.035Z"/><text x="-31.25" y="0" font-family='"Liberation Sans", sans-serif' font-size="28.1">3</text><text x="-15.62" y="0" font-family='"Liberation Sans", sans-serif' font-size="28.1">0</text></g>
<g transform="translate(848.45,1196.59) scale(0.965,1)" fill="#1a1a1a"><path transform="translate(-40.60,0) scale(28.1)" d="M0.035 -0.318H0.31V-0.228H0.035Z"/><text x="-31.25" y="0" font-family='"Liberation Sans", sans-serif' font-size="28.1">2</text><text x="-15.62" y="0" font-family='"Liberation Sans", sans-serif' font-size="28.1">5</text></g>
<g transform="translate(848.45,1153.38) scale(0.965,1)" fill="#1a1a1a"><path transform="translate(-40.60,0) scale(28.1)" d="M0.035 -0.318H0.31V-0.228H0.035Z"/><text x="-31.25" y="0" font-family='"Liberation Sans", sans-serif' font-size="28.1">2</text><text x="-15.62" y="0" font-family='"Liberation Sans", sans-serif' font-size="28.1">0</text></g>
<g transform="translate(848.45,1110.17) scale(0.965,1)" fill="#1a1a1a"><path transform="translate(-40.60,0) scale(28.1)" d="M0.035 -0.318H0.31V-0.228H0.035Z"/><path transform="translate(-31.25,0) scale(28.1)" d="M0.395 0H0.305V-0.565C0.25 -0.51 0.19 -0.465 0.115 -0.43L0.11 -0.525C0.19 -0.565 0.26 -0.62 0.30 -0.70H0.395Z"/><text x="-15.62" y="0" font-family='"Liberation Sans", sans-serif' font-size="28.1">5</text></g>
<g transform="translate(848.45,1066.96) scale(0.965,1)" fill="#1a1a1a"><path transform="translate(-40.60,0) scale(28.1)" d="M0.035 -0.318H0.31V-0.228H0.035Z"/><path transform="translate(-31.25,0) scale(28.1)" d="M0.395 0H0.305V-0.565C0.25 -0.51 0.19 -0.465 0.115 -0.43L0.11 -0.525C0.19 -0.565 0.26 -0.62 0.30 -0.70H0.395Z"/><text x="-15.62" y="0" font-family='"Liberation Sans", sans-serif' font-size="28.1">0</text></g>
<g transform="translate(848.45,1023.74) scale(0.965,1)" fill="#1a1a1a"><path transform="translate(-24.98,0) scale(28.1)" d="M0.035 -0.318H0.31V-0.228H0.035Z"/><text x="-15.62" y="0" font-family='"Liberation Sans", sans-serif' font-size="28.1">5</text></g>
<g transform="translate(848.45,980.53) scale(0.965,1)" fill="#1a1a1a"><text x="-15.62" y="0" font-family='"Liberation Sans", sans-serif' font-size="28.1">0</text></g>
<g transform="translate(848.45,937.32) scale(0.965,1)" fill="#1a1a1a"><text x="-15.62" y="0" font-family='"Liberation Sans", sans-serif' font-size="28.1">5</text></g>
<g transform="translate(848.45,894.11) scale(0.965,1)" fill="#1a1a1a"><path transform="translate(-31.25,0) scale(28.1)" d="M0.395 0H0.305V-0.565C0.25 -0.51 0.19 -0.465 0.115 -0.43L0.11 -0.525C0.19 -0.565 0.26 -0.62 0.30 -0.70H0.395Z"/><text x="-15.62" y="0" font-family='"Liberation Sans", sans-serif' font-size="28.1">0</text></g>
<g transform="translate(848.45,850.90) scale(0.965,1)" fill="#1a1a1a"><path transform="translate(-31.25,0) scale(28.1)" d="M0.395 0H0.305V-0.565C0.25 -0.51 0.19 -0.465 0.115 -0.43L0.11 -0.525C0.19 -0.565 0.26 -0.62 0.30 -0.70H0.395Z"/><text x="-15.62" y="0" font-family='"Liberation Sans", sans-serif' font-size="28.1">5</text></g>
<text transform="translate(64.09,22.46) scale(0.3019,0.3382)" font-family='"Liberation Sans", sans-serif' font-weight="bold" font-size="100" fill="#000">a</text>
<text transform="translate(777.52,26.70) scale(0.3540,0.3342)" font-family='"Liberation Sans", sans-serif' font-weight="bold" font-size="100" fill="#000">b</text>
<text transform="translate(63.63,437.87) scale(0.3429,0.3345)" font-family='"Liberation Sans", sans-serif' font-weight="bold" font-size="100" fill="#000">c</text>
<text transform="translate(777.90,442.40) scale(0.3500,0.3356)" font-family='"Liberation Sans", sans-serif' font-weight="bold" font-size="100" fill="#000">d</text>
<text transform="translate(63.10,853.37) scale(0.3500,0.3345)" font-family='"Liberation Sans", sans-serif' font-weight="bold" font-size="100" fill="#000">e</text>
<text transform="translate(777.52,857.70) scale(0.3903,0.3342)" font-family='"Liberation Sans", sans-serif' font-weight="bold" font-size="100" fill="#000">f</text>
<path d="M230.60 26.60H242.20M236.40 20.80V32.40" stroke="#04347f" stroke-width="1.45" fill="none"/>
<path d="M259.00 30.10H276.00M259.00 36.40H276.00" stroke="#04347f" stroke-width="1.45" fill="none"/>
<path d="M356.60 26.60H368.20M362.40 20.80V32.40" stroke="#04347f" stroke-width="1.45" fill="none"/>
<path d="M378.70 30.10H395.90M378.70 36.40H395.90" stroke="#04347f" stroke-width="1.45" fill="none"/>
<path d="M459.90 26.60H471.50M465.70 20.80V32.40" stroke="#04347f" stroke-width="1.45" fill="none"/>
<path d="M481.50 30.10H498.70M481.50 36.40H498.70" stroke="#04347f" stroke-width="1.45" fill="none"/>
<g font-family='"Liberation Serif", serif' fill="#04347f" stroke="#04347f" stroke-width="0.3"><text x="211.00" y="40.00" font-size="25.0" font-style="italic" textLength="18.40" lengthAdjust="spacingAndGlyphs">T</text><text x="226.20" y="46.60" font-size="18" textLength="23.20" lengthAdjust="spacingAndGlyphs">osc</text><text x="284.80" y="40.00" font-size="25.0" textLength="45.20" lengthAdjust="spacingAndGlyphs">140,</text><text x="338.00" y="40.00" font-size="25.0" font-style="italic" textLength="18.00" lengthAdjust="spacingAndGlyphs">A</text><text x="404.30" y="40.00" font-size="25.0" textLength="31.70" lengthAdjust="spacingAndGlyphs">12,</text><text x="445.00" y="40.00" font-size="25.0" font-style="italic" textLength="13.40" lengthAdjust="spacingAndGlyphs">κ</text><text x="459.40" y="46.40" font-size="17" font-style="italic" textLength="9.10" lengthAdjust="spacingAndGlyphs">x</text><text x="506.60" y="40.00" font-size="25.0" textLength="69.70" lengthAdjust="spacingAndGlyphs">0.0014</text></g>
<path d="M230.60 437.40H242.20M236.40 431.60V443.20" stroke="#660574" stroke-width="1.45" fill="none"/>
<path d="M259.00 440.90H276.00M259.00 447.20H276.00" stroke="#660574" stroke-width="1.45" fill="none"/>
<path d="M356.60 437.40H368.20M362.40 431.60V443.20" stroke="#660574" stroke-width="1.45" fill="none"/>
<path d="M379.00 440.90H395.60M379.00 447.20H395.60" stroke="#660574" stroke-width="1.45" fill="none"/>
<path d="M466.55 437.40H478.15M472.35 431.60V443.20" stroke="#660574" stroke-width="1.45" fill="none"/>
<path d="M489.00 440.90H505.60M489.00 447.20H505.60" stroke="#660574" stroke-width="1.45" fill="none"/>
<g font-family='"Liberation Serif", serif' fill="#660574" stroke="#660574" stroke-width="0.3"><text x="211.00" y="450.80" font-size="25.0" font-style="italic" textLength="18.40" lengthAdjust="spacingAndGlyphs">T</text><text x="226.20" y="457.40" font-size="18" textLength="23.20" lengthAdjust="spacingAndGlyphs">osc</text><text x="283.80" y="450.80" font-size="25.0" textLength="46.20" lengthAdjust="spacingAndGlyphs">362,</text><text x="338.00" y="450.80" font-size="25.0" font-style="italic" textLength="18.00" lengthAdjust="spacingAndGlyphs">A</text><text x="403.90" y="450.80" font-size="25.0" textLength="38.60" lengthAdjust="spacingAndGlyphs">7.8,</text><text x="451.60" y="450.80" font-size="25.0" font-style="italic" textLength="13.40" lengthAdjust="spacingAndGlyphs">κ</text><text x="465.90" y="457.20" font-size="17" font-style="italic" textLength="9.10" lengthAdjust="spacingAndGlyphs">x</text><text x="513.60" y="450.80" font-size="25.0" textLength="69.50" lengthAdjust="spacingAndGlyphs">0.0008</text></g>
<path d="M230.60 468.20H242.20M236.40 462.40V474.00" stroke="#6f5db0" stroke-width="1.45" fill="none"/>
<path d="M259.00 471.70H276.00M259.00 478.00H276.00" stroke="#6f5db0" stroke-width="1.45" fill="none"/>
<path d="M356.60 468.20H368.20M362.40 462.40V474.00" stroke="#6f5db0" stroke-width="1.45" fill="none"/>
<path d="M379.00 471.70H395.60M379.00 478.00H395.60" stroke="#6f5db0" stroke-width="1.45" fill="none"/>
<path d="M466.55 468.20H478.15M472.35 462.40V474.00" stroke="#6f5db0" stroke-width="1.45" fill="none"/>
<path d="M489.00 471.70H505.60M489.00 478.00H505.60" stroke="#6f5db0" stroke-width="1.45" fill="none"/>
<g font-family='"Liberation Serif", serif' fill="#6f5db0" stroke="#6f5db0" stroke-width="0.3"><text x="211.00" y="481.60" font-size="25.0" font-style="italic" textLength="18.40" lengthAdjust="spacingAndGlyphs">T</text><text x="226.20" y="488.20" font-size="18" textLength="23.20" lengthAdjust="spacingAndGlyphs">osc</text><text x="283.80" y="481.60" font-size="25.0" textLength="46.20" lengthAdjust="spacingAndGlyphs">348,</text><text x="338.00" y="481.60" font-size="25.0" font-style="italic" textLength="18.00" lengthAdjust="spacingAndGlyphs">A</text><text x="403.90" y="481.60" font-size="25.0" textLength="38.60" lengthAdjust="spacingAndGlyphs">4.9,</text><text x="451.60" y="481.60" font-size="25.0" font-style="italic" textLength="13.40" lengthAdjust="spacingAndGlyphs">κ</text><text x="465.90" y="488.00" font-size="17" font-style="italic" textLength="9.10" lengthAdjust="spacingAndGlyphs">x</text><text x="513.60" y="481.60" font-size="25.0" textLength="69.50" lengthAdjust="spacingAndGlyphs">0.0014</text></g>
<path d="M230.60 854.30H242.20M236.40 848.50V860.10" stroke="#7a0310" stroke-width="1.45" fill="none"/>
<path d="M258.98 859.45C260.21 855.60 264.07 854.85 267.60 857.20S274.89 860.10 276.12 855.28M258.98 865.67C260.21 861.81 264.07 861.06 267.60 863.42S274.89 866.31 276.12 861.49" stroke="#7a0310" stroke-width="1.87" fill="none" stroke-linecap="round"/>
<path d="M356.75 854.30H368.35M362.55 848.50V860.10" stroke="#7a0310" stroke-width="1.45" fill="none"/>
<path d="M378.40 859.13C379.68 855.13 383.68 854.35 387.36 856.80S394.92 859.80 396.20 854.80M378.40 865.59C379.68 861.58 383.68 860.80 387.36 863.25S394.92 866.25 396.20 861.25" stroke="#7a0310" stroke-width="1.95" fill="none" stroke-linecap="round"/>
<path d="M446.75 854.30H458.35M452.55 848.50V860.10" stroke="#7a0310" stroke-width="1.45" fill="none"/>
<path d="M469.10 857.80H485.90M469.10 864.10H485.90" stroke="#7a0310" stroke-width="1.45" fill="none"/>
<g font-family='"Liberation Serif", serif' fill="#7a0310" stroke="#7a0310" stroke-width="0.3"><text x="211.00" y="867.70" font-size="25.0" font-style="italic" textLength="18.40" lengthAdjust="spacingAndGlyphs">T</text><text x="226.20" y="874.30" font-size="18" textLength="23.20" lengthAdjust="spacingAndGlyphs">osc</text><text x="284.00" y="867.70" font-size="25.0" textLength="46.40" lengthAdjust="spacingAndGlyphs">600,</text><text x="338.50" y="867.70" font-size="25.0" font-style="italic" textLength="17.70" lengthAdjust="spacingAndGlyphs">A</text><text x="403.60" y="867.70" font-size="25.0" textLength="19.40" lengthAdjust="spacingAndGlyphs">5,</text><text x="432.20" y="867.70" font-size="25.0" font-style="italic" textLength="13.40" lengthAdjust="spacingAndGlyphs">κ</text><text x="446.20" y="874.10" font-size="17" font-style="italic" textLength="9.10" lengthAdjust="spacingAndGlyphs">x</text><text x="493.50" y="867.70" font-size="25.0" textLength="69.70" lengthAdjust="spacingAndGlyphs">0.0008</text></g>
<path d="M230.60 885.00H242.20M236.40 879.20V890.80" stroke="#ef3b2c" stroke-width="1.45" fill="none"/>
<path d="M258.90 888.50H276.20M258.90 894.80H276.20" stroke="#ef3b2c" stroke-width="1.45" fill="none"/>
<path d="M369.00 885.00H380.60M374.80 879.20V890.80" stroke="#ef3b2c" stroke-width="1.45" fill="none"/>
<path d="M391.30 888.50H407.80M391.30 894.80H407.80" stroke="#ef3b2c" stroke-width="1.45" fill="none"/>
<path d="M479.10 885.00H490.70M484.90 879.20V890.80" stroke="#ef3b2c" stroke-width="1.45" fill="none"/>
<path d="M500.70 888.50H518.00M500.70 894.80H518.00" stroke="#ef3b2c" stroke-width="1.45" fill="none"/>
<g font-family='"Liberation Serif", serif' fill="#ef3b2c" stroke="#ef3b2c" stroke-width="0.3"><text x="211.00" y="898.40" font-size="25.0" font-style="italic" textLength="18.40" lengthAdjust="spacingAndGlyphs">T</text><text x="226.20" y="905.00" font-size="18" textLength="23.20" lengthAdjust="spacingAndGlyphs">osc</text><text x="284.80" y="898.40" font-size="25.0" textLength="57.60" lengthAdjust="spacingAndGlyphs">1100,</text><text x="350.80" y="898.40" font-size="25.0" font-style="italic" textLength="17.90" lengthAdjust="spacingAndGlyphs">A</text><text x="416.50" y="898.40" font-size="25.0" textLength="38.50" lengthAdjust="spacingAndGlyphs">3.5,</text><text x="464.30" y="898.40" font-size="25.0" font-style="italic" textLength="13.40" lengthAdjust="spacingAndGlyphs">κ</text><text x="478.50" y="904.80" font-size="17" font-style="italic" textLength="9.10" lengthAdjust="spacingAndGlyphs">x</text><text x="525.80" y="898.40" font-size="25.0" textLength="69.80" lengthAdjust="spacingAndGlyphs">0.0006</text></g>
<text transform="translate(573.4,211.5) rotate(12.5) scale(1.094,1)" font-family='"Liberation Serif", serif' font-size="25.2" fill="#111" stroke="#111" stroke-width="0.45">GQ Prediction</text>
<text transform="translate(574.6,681.8) scale(1.094,1)" font-family='"Liberation Serif", serif' font-size="25.2" fill="#111" stroke="#111" stroke-width="0.45">GQ Prediction</text>
<text transform="translate(574.9,1155.5) scale(1.094,1)" font-family='"Liberation Serif", serif' font-size="25.2" fill="#111" stroke="#111" stroke-width="0.45">GQ Prediction</text>
<text transform="translate(179.8,307.7) rotate(-90)" font-family='"Liberation Serif", serif' font-size="23.4" fill="#111" stroke="#111" stroke-width="0.3">LITERATURE</text>
<text transform="translate(80.9,256.90) rotate(-90) scale(0.32,0.308)" font-family='"Liberation Serif", serif' font-size="100" fill="#111" stroke="#111" stroke-width="0.95">DR</text>
<text transform="translate(81.9,256.90) rotate(-90) translate(55.0,0) scale(0.301,0.338)" font-family='"Liberation Serif", serif' font-size="100" fill="#111" stroke="#111" stroke-width="0.95">(%)</text>
<text transform="translate(792.1,261.80) rotate(-90) scale(0.322,0.314)" font-family='"Liberation Serif", serif' font-size="100" fill="#111" stroke="#111" stroke-width="0.95">NPS</text>
<text transform="translate(792.8,261.80) rotate(-90) translate(65.3,0) scale(0.2986,0.33)" font-family='"Liberation Serif", serif' font-size="100" fill="#111" stroke="#111" stroke-width="0.95">(%)</text>
<text transform="translate(80.9,672.35) rotate(-90) scale(0.32,0.308)" font-family='"Liberation Serif", serif' font-size="100" fill="#111" stroke="#111" stroke-width="0.95">DR</text>
<text transform="translate(81.9,672.35) rotate(-90) translate(55.0,0) scale(0.301,0.338)" font-family='"Liberation Serif", serif' font-size="100" fill="#111" stroke="#111" stroke-width="0.95">(%)</text>
<text transform="translate(792.1,677.25) rotate(-90) scale(0.322,0.314)" font-family='"Liberation Serif", serif' font-size="100" fill="#111" stroke="#111" stroke-width="0.95">NPS</text>
<text transform="translate(792.8,677.25) rotate(-90) translate(65.3,0) scale(0.2986,0.33)" font-family='"Liberation Serif", serif' font-size="100" fill="#111" stroke="#111" stroke-width="0.95">(%)</text>
<text transform="translate(80.9,1087.05) rotate(-90) scale(0.32,0.308)" font-family='"Liberation Serif", serif' font-size="100" fill="#111" stroke="#111" stroke-width="0.95">DR</text>
<text transform="translate(81.9,1087.05) rotate(-90) translate(55.0,0) scale(0.301,0.338)" font-family='"Liberation Serif", serif' font-size="100" fill="#111" stroke="#111" stroke-width="0.95">(%)</text>
<text transform="translate(792.1,1091.95) rotate(-90) scale(0.322,0.314)" font-family='"Liberation Serif", serif' font-size="100" fill="#111" stroke="#111" stroke-width="0.95">NPS</text>
<text transform="translate(792.8,1091.95) rotate(-90) translate(65.3,0) scale(0.2986,0.33)" font-family='"Liberation Serif", serif' font-size="100" fill="#111" stroke="#111" stroke-width="0.95">(%)</text>
<g transform="translate(211.50,1272.30) scale(0.965,1)" fill="#1a1a1a"><path transform="translate(-31.25,0) scale(28.1)" d="M0.395 0H0.305V-0.565C0.25 -0.51 0.19 -0.465 0.115 -0.43L0.11 -0.525C0.19 -0.565 0.26 -0.62 0.30 -0.70H0.395Z"/><text x="-15.62" y="0" font-family='"Liberation Sans", sans-serif' font-size="28.1">0</text></g>
<text x="212.30" y="1260.3" font-family='"Liberation Sans", sans-serif' font-size="22.8" fill="#1a1a1a">3</text>
<g transform="translate(623.60,1272.30) scale(0.965,1)" fill="#1a1a1a"><path transform="translate(-31.25,0) scale(28.1)" d="M0.395 0H0.305V-0.565C0.25 -0.51 0.19 -0.465 0.115 -0.43L0.11 -0.525C0.19 -0.565 0.26 -0.62 0.30 -0.70H0.395Z"/><text x="-15.62" y="0" font-family='"Liberation Sans", sans-serif' font-size="28.1">0</text></g>
<text x="624.40" y="1260.3" font-family='"Liberation Sans", sans-serif' font-size="22.8" fill="#1a1a1a">4</text>
<text x="375.00" y="1278.8" font-family='"Liberation Serif", serif' font-size="32" fill="#111" stroke="#111" stroke-width="0.3">Re</text>
<text transform="translate(410.60,1283.5) scale(1.3,1)" font-family='"Liberation Serif", serif' font-size="21" font-style="italic" fill="#111">τ</text>
<g transform="translate(931.70,1272.30) scale(0.965,1)" fill="#1a1a1a"><path transform="translate(-31.25,0) scale(28.1)" d="M0.395 0H0.305V-0.565C0.25 -0.51 0.19 -0.465 0.115 -0.43L0.11 -0.525C0.19 -0.565 0.26 -0.62 0.30 -0.70H0.395Z"/><text x="-15.62" y="0" font-family='"Liberation Sans", sans-serif' font-size="28.1">0</text></g>
<text x="932.50" y="1260.3" font-family='"Liberation Sans", sans-serif' font-size="22.8" fill="#1a1a1a">3</text>
<g transform="translate(1343.80,1272.30) scale(0.965,1)" fill="#1a1a1a"><path transform="translate(-31.25,0) scale(28.1)" d="M0.395 0H0.305V-0.565C0.25 -0.51 0.19 -0.465 0.115 -0.43L0.11 -0.525C0.19 -0.565 0.26 -0.62 0.30 -0.70H0.395Z"/><text x="-15.62" y="0" font-family='"Liberation Sans", sans-serif' font-size="28.1">0</text></g>
<text x="1344.60" y="1260.3" font-family='"Liberation Sans", sans-serif' font-size="22.8" fill="#1a1a1a">4</text>
<text x="1095.20" y="1278.8" font-family='"Liberation Serif", serif' font-size="32" fill="#111" stroke="#111" stroke-width="0.3">Re</text>
<text transform="translate(1130.80,1283.5) scale(1.3,1)" font-family='"Liberation Serif", serif' font-size="21" font-style="italic" fill="#111">τ</text>
<g transform="translate(22.0,414.9) rotate(-90)" font-family='"Liberation Serif", serif' fill="#0b4a9a" stroke="#0b4a9a" stroke-width="0.3"><text x="-0.6" y="0" font-size="29" font-style="italic" textLength="13.2" lengthAdjust="spacingAndGlyphs">T</text><path d="M20.70 -15.40H32.70M26.70 -21.40V-9.40" stroke="#0b4a9a" stroke-width="1.5" fill="none"/><text x="12.8" y="6.6" font-size="20.5" textLength="25.2" lengthAdjust="spacingAndGlyphs">osc</text><path d="M50.00 -8.22C51.27 -12.20 55.25 -12.98 58.91 -10.54S66.43 -7.56 67.70 -12.54M50.00 -1.80C51.27 -5.79 55.25 -6.56 58.91 -4.13S66.43 -1.14 67.70 -6.12" stroke="#0b4a9a" stroke-width="1.94" fill="none" stroke-linecap="round"/><text x="76.6" y="0" font-size="29" textLength="47.5" lengthAdjust="spacingAndGlyphs">100:</text><text x="136.0" y="0" font-size="29" textLength="253.6" lengthAdjust="spacingAndGlyphs">Small-eddy actuation</text></g>
<g transform="translate(21.7,660.2) rotate(-90)" font-family='"Liberation Serif", serif' fill="#660574" stroke="#660574" stroke-width="0.3"><text x="-0.6" y="0" font-size="29" font-style="italic" textLength="13.2" lengthAdjust="spacingAndGlyphs">T</text><path d="M20.70 -15.40H32.70M26.70 -21.40V-9.40" stroke="#660574" stroke-width="1.5" fill="none"/><text x="12.8" y="6.6" font-size="20.5" textLength="25.2" lengthAdjust="spacingAndGlyphs">osc</text><path d="M50.00 -8.22C51.27 -12.20 55.25 -12.98 58.91 -10.54S66.43 -7.56 67.70 -12.54M50.00 -1.80C51.27 -5.79 55.25 -6.56 58.91 -4.13S66.43 -1.14 67.70 -6.12" stroke="#660574" stroke-width="1.94" fill="none" stroke-linecap="round"/><text x="77.0" y="0" font-size="29" textLength="42.5" lengthAdjust="spacingAndGlyphs">350</text></g>
<g transform="translate(22.0,1229.3) rotate(-90)" font-family='"Liberation Serif", serif' fill="#7a0310" stroke="#7a0310" stroke-width="0.3"><text x="-0.6" y="0" font-size="29" font-style="italic" textLength="13.2" lengthAdjust="spacingAndGlyphs">T</text><path d="M20.70 -15.40H32.70M26.70 -21.40V-9.40" stroke="#7a0310" stroke-width="1.5" fill="none"/><text x="12.8" y="6.6" font-size="20.5" textLength="25.2" lengthAdjust="spacingAndGlyphs">osc</text><path d="M51.5 -19.3L67.4 -11.4L51.5 -3.5" stroke="#7a0310" stroke-width="1.4" fill="none" stroke-linejoin="miter"/><text x="76.6" y="0" font-size="29" textLength="47.5" lengthAdjust="spacingAndGlyphs">350:</text><text x="136.4" y="0" font-size="29" textLength="254.4" lengthAdjust="spacingAndGlyphs">Large-eddy actuation</text></g>
</svg></body></html>
